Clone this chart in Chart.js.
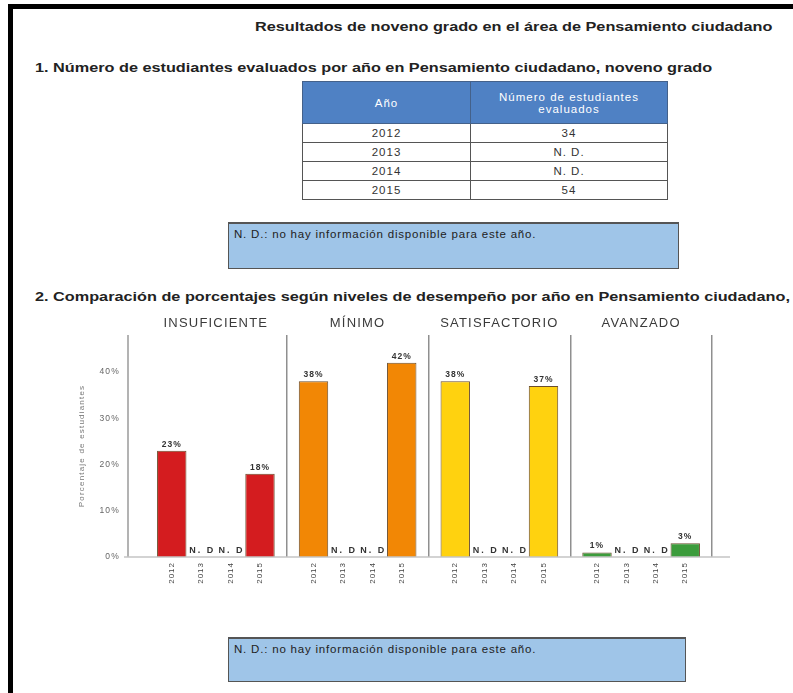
<!DOCTYPE html>
<html lang="es">
<head>
  <meta charset="UTF-8">
  <title>Resultados de noveno grado - Pensamiento ciudadano</title>
  <script src="https://cdn.jsdelivr.net/npm/chart.js@4"></script>
  <style>
    body { margin: 0; width: 793px; height: 693px; overflow: hidden; background: #fff;
           font-family: "Liberation Sans", Arial, sans-serif; color: #222; position: relative; }
    .frame { position: absolute; left: 8px; top: 4px; width: 800px; height: 700px;
             border-left: 5px solid #000; border-top: 5px solid #000; }
    .head { position: absolute; white-space: nowrap; font-weight: bold; font-size: 12.5px;
            transform-origin: left center; transform: scaleX(1.3); }
    table { position: absolute; left: 302px; top: 81px; width: 366px; border-collapse: collapse;
            font-size: 11.5px; letter-spacing: 1px; color: #333; }
    th { background: #4f81c4; color: #fff; font-weight: normal; height: 39px; line-height: 12px;
         border: 1px solid #44618a; }
    td { text-align: center; height: 18px; padding: 0; border: 1px solid #555; }
    .note { position: absolute; left: 228px; background: #9fc5e8; border: 1px solid #555;
            border-top: 2px solid #555; font-size: 11.5px; letter-spacing: 0.8px; color: #222;
            box-sizing: border-box; padding: 4px 5px; }
    #chartBox { position: absolute; left: 60px; top: 300px; }
  </style>
</head>
<body>
  <div class="frame"></div>
  <div class="head" style="left:255px; top:20px;">Resultados de noveno grado en el área de Pensamiento ciudadano</div>
  <div class="head" style="left:35px; top:61px;">1. Número de estudiantes evaluados por año en Pensamiento ciudadano, noveno grado</div>
  <table id="tbl"></table>
  <div class="note" style="top:222px; width:451px; height:47px;">N. D.: no hay información disponible para este año.</div>
  <div class="head" style="left:35px; top:290px;">2. Comparación de porcentajes según niveles de desempeño por año en Pensamiento ciudadano,</div>
  <div id="chartBox"><canvas id="levelsChart" width="680" height="300"></canvas></div>
  <div class="note" style="top:637px; width:458px; height:45px;">N. D.: no hay información disponible para este año.</div>
  <script>
    // table 1
    const tableYears = ['2012', '2013', '2014', '2015'];
    const evaluated = ['34', 'N. D.', 'N. D.', '54'];

    // chart 2: percentage per performance level, one series per year (null = N. D.)
    const levels = ['INSUFICIENTE', 'MÍNIMO', 'SATISFACTORIO', 'AVANZADO'];
    const years = ['2012', '2013', '2014', '2015'];
    const pct2012 = [23, 38, 38, 1];
    const pct2013 = [null, null, null, null];
    const pct2014 = [null, null, null, null];
    const pct2015 = [18, 42, 37, 3];
    const levelColors = ['#d41c1f', '#f28705', '#ffd20f', '#3c9c3c'];

    let html = '<tr><th style="width:165px">Año</th><th>Número de estudiantes<br>evaluados</th></tr>';
    tableYears.forEach((y, i) => {
      html += '<tr><td>' + y + '</td><td>' + evaluated[i] + '</td></tr>';
    });
    document.getElementById('tbl').innerHTML = html;

    const family = '"Liberation Sans", Arial, sans-serif';
    const series = [pct2012, pct2013, pct2014, pct2015];

    // axis line, baseline, value labels, N. D. marks and year labels
    const panelDecor = {
      id: 'panelDecor',
      beforeDraw(chart) {
        chart.ctx.letterSpacing = '1.2px';
      },
      afterDatasetsDraw(chart) {
        const { ctx, chartArea, scales: { y } } = chart;
        const base = y.getPixelForValue(0);
        ctx.save();
        ctx.lineWidth = 1.5;
        ctx.strokeStyle = '#9a9a9a';
        ctx.beginPath();
        ctx.moveTo(chartArea.left - 17, chartArea.top);
        ctx.lineTo(chartArea.left - 17, base);
        ctx.stroke();
        ctx.strokeStyle = '#c4c4c4';
        ctx.beginPath();
        ctx.moveTo(chartArea.left - 21, base);
        ctx.lineTo(chartArea.right + 18, base);
        ctx.stroke();

        chart.data.datasets.forEach((ds, di) => {
          chart.getDatasetMeta(di).data.forEach((bar, i) => {
            const v = ds.data[i];
            ctx.fillStyle = '#333';
            ctx.textAlign = 'center';
            ctx.textBaseline = 'bottom';
            if (v === null) {
              ctx.letterSpacing = '2px';
              ctx.font = 'bold 9px ' + family;
              ctx.fillText('N. D', bar.x + 1, base - 2);
            } else {
              ctx.letterSpacing = '1px';
              ctx.font = 'bold 8.5px ' + family;
              ctx.fillText(v + '%', bar.x, y.getPixelForValue(v) - 2);
            }
            // year under the bar, rotated
            ctx.save();
            ctx.translate(bar.x, base + 5);
            ctx.rotate(-Math.PI / 2);
            ctx.letterSpacing = '1px';
            ctx.font = '8px ' + family;
            ctx.fillStyle = '#444';
            ctx.textAlign = 'right';
            ctx.textBaseline = 'middle';
            ctx.fillText(ds.label, 0, 0);
            ctx.restore();
          });
        });
        ctx.restore();
      }
    };

    new Chart(document.getElementById('levelsChart').getContext('2d'), {
      type: 'bar',
      data: {
        labels: levels,
        datasets: years.map((yr, i) => ({
          label: yr,
          data: series[i],
          backgroundColor: levelColors,
          borderColor: '#6b4e2e',
          borderWidth: 1,
          barPercentage: 1,
          categoryPercentage: 0.83
        }))
      },
      options: {
        responsive: false,
        animation: false,
        layout: { padding: { top: 10, right: 28, bottom: 43, left: 0 } },
        plugins: { legend: { display: false }, tooltip: { enabled: false } },
        scales: {
          x: {
            position: 'top',
            grid: {
              offset: true,
              drawTicks: false,
              lineWidth: 1.5,
              color: c => c.index === 0 ? 'rgba(0,0,0,0)' : '#8f8f8f'
            },
            border: { display: false },
            ticks: { padding: 4, color: '#3a3a3a', font: { size: 13, family: family } },
            afterFit: s => { s.height = 25; }
          },
          y: {
            min: 0,
            max: 48,
            grid: { display: false, drawTicks: false },
            border: { display: false },
            ticks: {
              stepSize: 10,
              padding: 25,
              color: '#666',
              font: { size: 8.5, family: family },
              callback: v => v % 10 === 0 ? v + '%' : ''
            },
            title: {
              display: true,
              text: 'Porcentaje de estudiantes',
              color: '#777',
              font: { size: 8, family: family },
              padding: { top: 17, bottom: 0 }
            },
            afterFit: s => { s.width = 85; }
          }
        }
      },
      plugins: [panelDecor]
    });
  </script>
</body>
</html>
